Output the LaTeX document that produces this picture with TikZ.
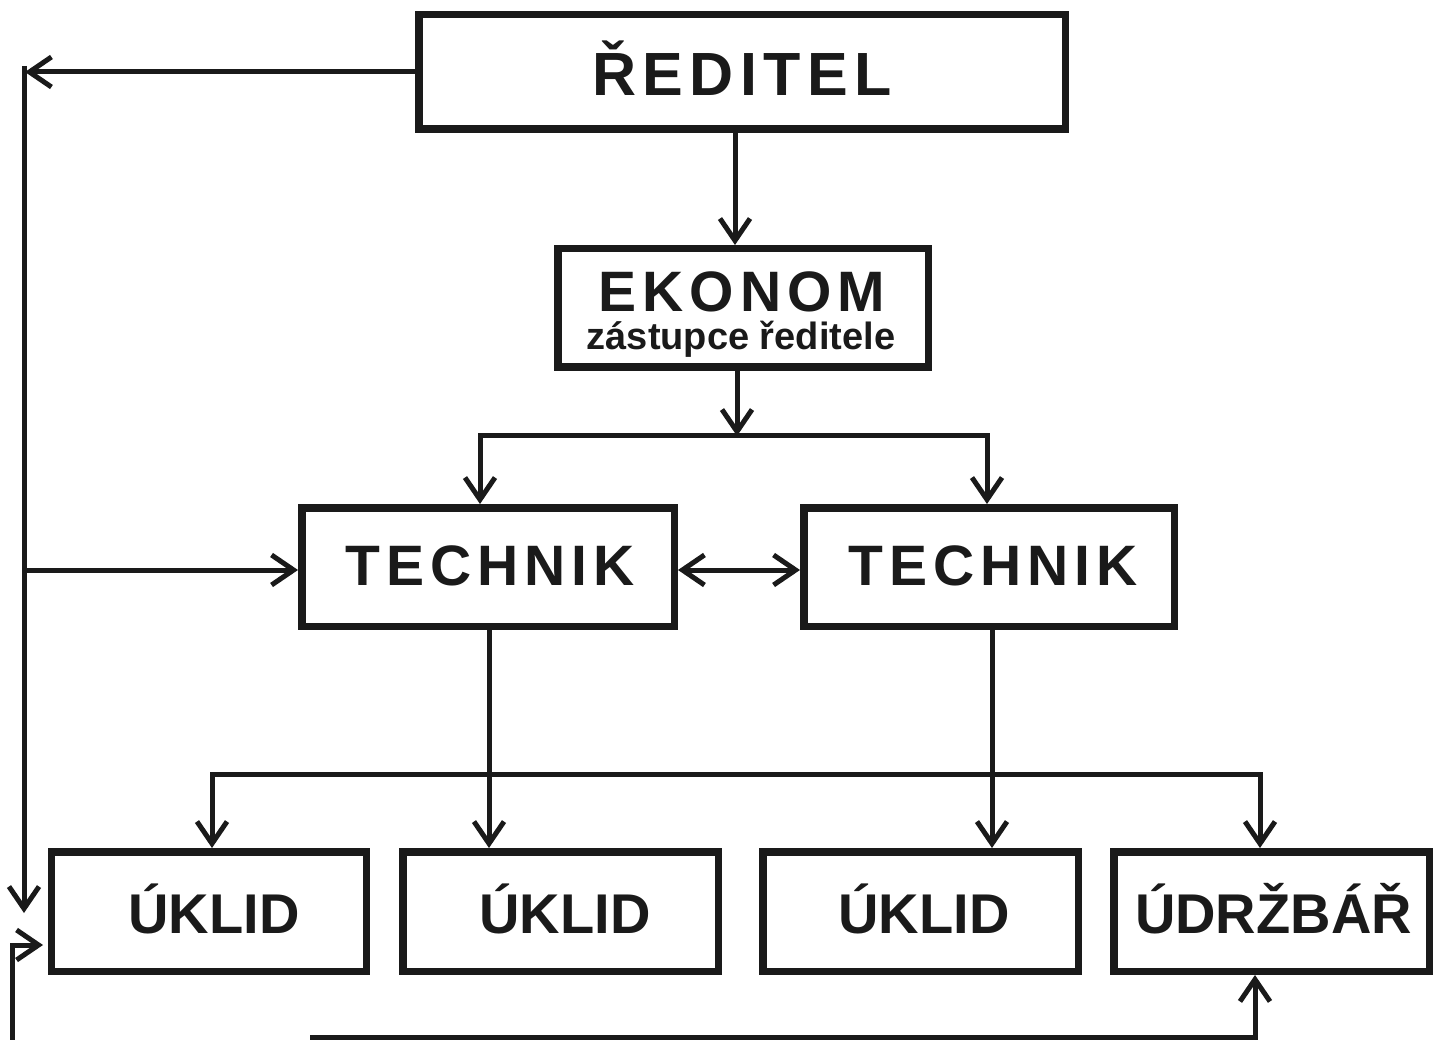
\documentclass[tikz,border=0pt]{standalone}
\usepackage{fontspec}
\setmainfont{Liberation Sans}
\newfontfamily\spaced[LetterSpace=10.5]{Liberation Sans}
\usetikzlibrary{arrows.meta,calc}
\definecolor{ink}{HTML}{1A1A1A}
\begin{document}
\begin{tikzpicture}[x=1pt,y=-1pt,
  box/.style 2 args={draw=ink,line width=7.5pt,minimum width=#1,minimum height=#2,inner sep=0pt},
  lbl/.style={anchor=base,text=ink,inner sep=0pt},
  conn/.style={draw=ink,line width=5pt},
  tipb/.tip={Straight Barb[length=22pt,width=30pt]},
  arr/.style={conn,-tipb},
  arrtwo/.style={conn,tipb-tipb}]
\fill[white] (0,0) rectangle (1441,1040);
\useasboundingbox (0,0) rectangle (1441,1040);
% boxes
\node[box={646.5pt}{114.5pt}] (red) at (742,72) {};
\node[box={370.5pt}{118.5pt}] (eko) at (743,308) {};
\node[box={372.5pt}{118.5pt}] (tl) at (488,567) {};
\node[box={370.5pt}{118.5pt}] (tr) at (989,567) {};
\node[box={315pt}{119.5pt}] (u1) at (209,911.5) {};
\node[box={315.5pt}{119.5pt}] (u2) at (560.5,911.5) {};
\node[box={315.5pt}{119.5pt}] (u3) at (920.5,911.5) {};
\node[box={315.5pt}{119.5pt}] (ud) at (1271.5,911.5) {};
% texts
\node[lbl,font=\spaced\bfseries\fontsize{61}{61}\selectfont] (tred) at (742,96) {ŘEDITEL};
\node[lbl,font=\spaced\bfseries\fontsize{57}{57}\selectfont] (teko) at (742,312) {EKONOM};
\node[lbl,font=\bfseries\fontsize{38}{38}\selectfont] (tzas) at (741,350) {zástupce ředitele};
\node[lbl,font=\spaced\bfseries\fontsize{57}{57}\selectfont] (ttl) at (490,585) {TECHNIK};
\node[lbl,font=\spaced\bfseries\fontsize{57}{57}\selectfont] (ttr) at (993,585) {TECHNIK};
\node[lbl,font=\bfseries\fontsize{56}{56}\selectfont] (tu1) at (214,933) {ÚKLID};
\node[lbl,font=\bfseries\fontsize{56}{56}\selectfont] (tu2) at (565,933) {ÚKLID};
\node[lbl,font=\bfseries\fontsize{56}{56}\selectfont] (tu3) at (924,933) {ÚKLID};
\node[lbl,font=\bfseries\fontsize{56}{56}\selectfont] (tud) at (1273.5,933) {ÚDRŽBÁŘ};
% coordinates
\coordinate (lt) at (25,72);
\coordinate (vtop) at (24,66);
\coordinate (vbot) at (24,913);
\coordinate (vb) at (24,570);
\coordinate (bl0) at (12,1040);
\coordinate (bl1) at (43,945);
\coordinate (bb) at (310,1037.5);
\coordinate (xa) at (735,0);
\coordinate (bus1) at (737,436);
\coordinate (bus1L) at (480,436);
\coordinate (bus1R) at (987,436);
\coordinate (xl) at (489,0);
\coordinate (xr) at (992,0);
\coordinate (b2L) at (212,774);
\coordinate (b2R) at (1260,774);
\coordinate (xud) at (1255,0);
% connectors
\draw[arr] (red.west) -- (lt);
\draw[arr] (vtop) -- (vbot);
\draw[arr] (vb) -- (vb -| tl.west);
\draw[arrtwo] (tl.east |- vb) -- (tr.west |- vb);
\draw[arr] (bl0) |- (bl1);
\draw[arr] (bb) -| (ud.south -| xud);
\draw[arr] (red.south -| xa) -- (eko.north -| xa);
\draw[arr] (eko.south -| bus1) -- (bus1);
\draw[arr] (bus1R) -- (bus1L) -- (tl.north -| bus1L);
\draw[arr] (bus1L) -- (bus1R) -- (tr.north -| bus1R);
\draw[arr] (tl.south -| xl) -- (u2.north -| xl);
\draw[arr] (tr.south -| xr) -- (u3.north -| xr);
\draw[arrtwo] (u1.north -| b2L) -- (b2L) -- (b2R) -- (ud.north -| b2R);
\end{tikzpicture}
\end{document}
